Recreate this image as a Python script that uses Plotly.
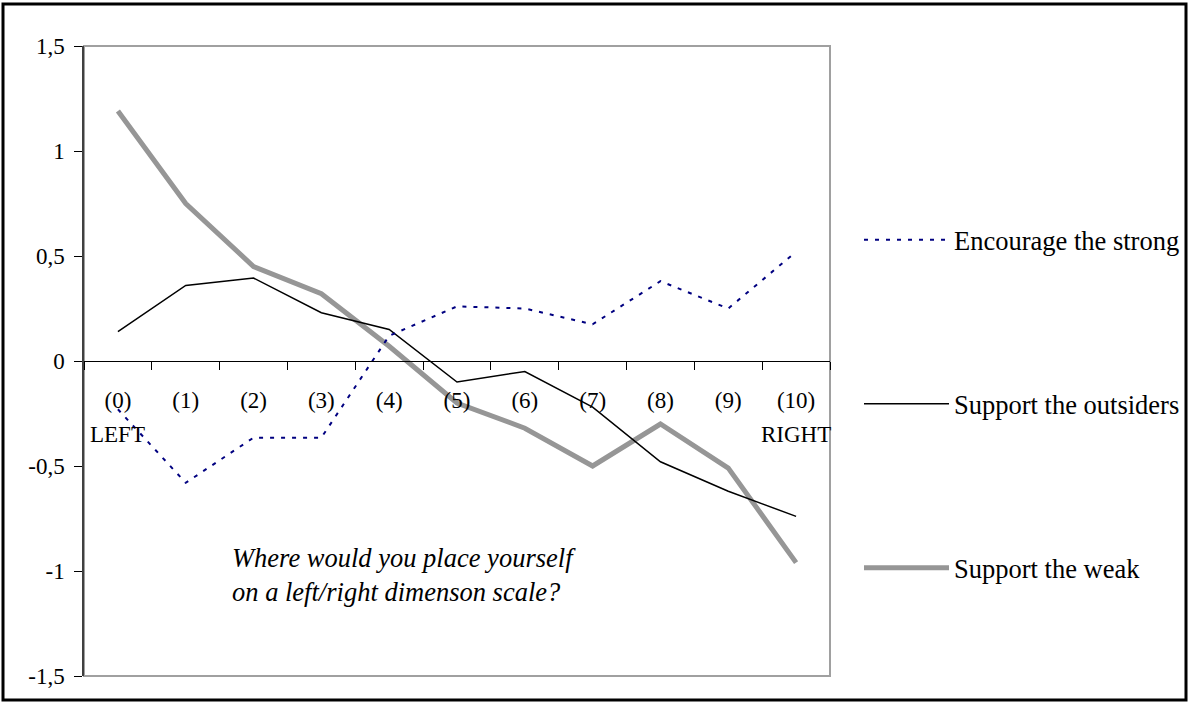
import plotly.graph_objects as go

categories = ["(0)", "(1)", "(2)", "(3)", "(4)", "(5)", "(6)", "(7)", "(8)", "(9)", "(10)"]
positions = list(range(11))
encourage_strong = [-0.23, -0.58, -0.365, -0.365, 0.12, 0.26, 0.25, 0.175, 0.38, 0.25, 0.52]
support_outsiders = [0.14, 0.36, 0.395, 0.23, 0.15, -0.10, -0.05, -0.22, -0.48, -0.62, -0.74]
support_weak = [1.19, 0.75, 0.45, 0.32, 0.07, -0.20, -0.32, -0.50, -0.30, -0.51, -0.96]
y_ticks = [-1.5, -1, -0.5, 0, 0.5, 1, 1.5]
y_ticklabels = ["-1,5", "-1", "-0,5", "0", "0,5", "1", "1,5"]

FONT = "Liberation Serif, Times New Roman, serif"

fig = go.Figure()

fig.add_trace(go.Scatter(
    x=positions, y=support_weak, mode="lines", name="Support the weak",
    line=dict(color="#969696", width=5), legend="legend3"))
fig.add_trace(go.Scatter(
    x=positions, y=support_outsiders, mode="lines", name="Support the outsiders",
    line=dict(color="#000000", width=1.5), legend="legend2"))
fig.add_trace(go.Scatter(
    x=positions, y=encourage_strong, mode="lines", name="Encourage the strong",
    line=dict(color="#000080", width=2, dash="4px,7px"), legend="legend"))

# invisible trace to activate xaxis2 (category labels)
fig.add_trace(go.Scatter(x=positions, y=[None] * 11, xaxis="x2", showlegend=False,
                         hoverinfo="skip"))

# figure is slightly wider than the window so the right-hand legend never
# forces an automatic margin change; the extra strip is blank and clipped.
W, H = 1210, 702
L, R, T, B = 84, 359 + (W - 1189), 46, 26
pw, ph = W - L - R, H - T - B

def px(p):
    return (p - L) / pw

def py(q):
    return (H - B - q) / ph

legend_common = dict(font=dict(family=FONT, size=26.5, color="black"),
                     bgcolor="rgba(0,0,0,0)", borderwidth=0, xanchor="left",
                     yanchor="middle", itemwidth=85)

fig.update_layout(
    width=W, height=H,
    margin=dict(l=L, r=R, t=T, b=B),
    paper_bgcolor="white", plot_bgcolor="white",
    showlegend=True,
    legend=dict(x=px(859), y=py(240), **legend_common),
    legend2=dict(x=px(859), y=py(404), **legend_common),
    legend3=dict(x=px(859), y=py(568), **legend_common),
    xaxis=dict(range=[-0.5, 10.5], anchor="free", position=0.5,
               showline=True, linecolor="black", linewidth=1,
               ticks="outside", ticklen=8, tickcolor="black", tickwidth=1,
               tickvals=[i + 0.5 for i in range(-1, 11)],
               showticklabels=False, showgrid=False, zeroline=False),
    xaxis2=dict(range=[-0.5, 10.5], overlaying="x", anchor="free", position=0.5,
                side="bottom", showline=False, showgrid=False, zeroline=False,
                ticks="outside", ticklen=18, tickcolor="rgba(0,0,0,0)",
                tickvals=positions, ticktext=categories,
                tickfont=dict(family=FONT, size=23, color="black")),
    yaxis=dict(range=[-1.5, 1.5], tickvals=y_ticks, ticktext=y_ticklabels,
               showline=True, linecolor="#404040", linewidth=1.5,
               ticks="outside", ticklen=8, tickcolor="black",
               ticklabelstandoff=5,
               showgrid=False, zeroline=False,
               tickfont=dict(family=FONT, size=23, color="black")),
    shapes=[
        dict(type="rect", xref="paper", yref="paper", x0=0, x1=1, y0=0, y1=1,
             line=dict(color="#a0a0a0", width=2), layer="below"),
        dict(type="rect", xref="paper", yref="paper",
             x0=px(3), x1=px(1186), y0=py(700), y1=py(4),
             line=dict(color="black", width=3), layer="above"),
    ],
    annotations=[
        dict(text="LEFT", x=0, y=-0.348, xref="x", yref="y", showarrow=False,
             xanchor="center", yanchor="middle",
             font=dict(family=FONT, size=23, color="black")),
        dict(text="RIGHT", x=10, y=-0.348, xref="x", yref="y", showarrow=False,
             xanchor="center", yanchor="middle",
             font=dict(family=FONT, size=23, color="black")),
        dict(text="<i>Where would you place yourself</i>", x=px(230), y=py(558),
             xref="paper", yref="paper", showarrow=False,
             xanchor="left", yanchor="middle",
             font=dict(family=FONT, size=26.5, color="black")),
        dict(text="<i>on a left/right dimenson scale?</i>", x=px(230), y=py(592),
             xref="paper", yref="paper", showarrow=False,
             xanchor="left", yanchor="middle",
             font=dict(family=FONT, size=26.5, color="black")),
    ],
)

fig.write_html("out.html", config={"displayModeBar": False},
               post_script="document.body.style.margin='0px';document.body.style.overflow='hidden';")
